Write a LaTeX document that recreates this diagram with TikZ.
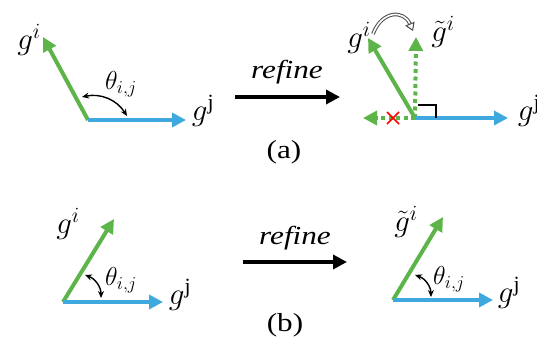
\RequirePackage{fix-cm}
\documentclass[tikz,border=0pt]{standalone}
\usepackage{amsmath}
\usepackage{graphicx}
\usepackage{fontspec}
\setmainfont{Liberation Serif}
\usetikzlibrary{arrows.meta,calc}
\definecolor{vgreen}{HTML}{5DB54A}
\definecolor{vblue}{HTML}{3EA8DF}
\definecolor{swapgrey}{HTML}{4A4A4A}
\newcommand{\widetxt}[1]{\scalebox{1.2}[1]{#1}}

\begin{document}
\begin{tikzpicture}[
  x=1pt, y=-1pt,
  garr/.style={-{Triangle[length=14pt,width=14pt]}, vgreen, line width=4pt},
  gdot/.style={-{Triangle[length=14pt,width=14pt]}, vgreen, line width=4pt, dash pattern=on 4pt off 3.5pt},
  barr/.style={-{Triangle[length=14pt,width=14pt]}, vblue, line width=4pt},
  karr/.style={-{Triangle[length=14pt,width=14pt]}, black, line width=4pt},
  angarr/.style={{Stealth[length=7pt,width=6pt]}-{Stealth[length=7pt,width=6pt]}, black, line width=1.4pt},
  vlab/.style={inner sep=0pt, font=\fontsize{31}{34}\selectfont},
  thlab/.style={inner sep=0pt, font=\fontsize{26}{30}\selectfont},
  txt/.style={inner sep=0pt, font=\fontsize{26}{30}\selectfont}
]
\useasboundingbox (0,0) rectangle (537,352);

% (a) before
\coordinate (oa) at (88,120);
\coordinate (gia) at (43,37);
\coordinate (gja) at (186,120);
\draw[garr] (oa) -- (gia);
\draw[barr] (oa) -- (gja);
\node[vlab] (lgia) at (29,40) {$g^{i}$};
\node[vlab] (lgja) at (203,111) {$g^{\mathrm{j}}$};
\coordinate (arca1) at (82,97);
\coordinate (arca2) at (127,116);
\draw[angarr] (arca1) to[bend left=35] (arca2);
\node[thlab] (tha) at (121,84) {$\theta_{i,j}$};

% refine (a)
\coordinate (ra1) at (235,97);
\coordinate (ra2) at (340,97);
\draw[karr] (ra1) -- (ra2);
\node[txt] (rfa) at (287,72) {\widetxt{\textit{refine}}};
\node[txt] (capa) at (284,152) {\widetxt{(a)}};

% (a) after
\coordinate (ob) at (415,118);
\coordinate (gib) at (368,38);
\coordinate (gtb) at (416,37);
\coordinate (gnb) at (363,118);
\coordinate (gjb) at (508,118);
\draw[gdot] (ob) -- (gnb);
\draw[gdot] (ob) -- (gtb);
\draw[garr] (ob) -- (gib);
\draw[barr] (ob) -- (gjb);
\draw[black, line width=1.4pt] (418,105) -- (436,105) -- (436,118);
\draw[red, line width=1.5pt] (387,112) -- (399,124) (387,124) -- (399,112);
\node[vlab] (lgib) at (359,38) {$g^{i}$};
\node[vlab] (lgtb) at (443,32) {$\tilde{g}^{i}$};
\node[vlab] (lgjb) at (529,111) {$g^{\mathrm{j}}$};
\coordinate (sw1) at (373,34);
\coordinate (sw2) at (413,31);
\draw[swapgrey, line width=1pt, double=white, double distance=1.6pt,
  -{Triangle[open,length=8pt,width=10pt]}] (sw1) .. controls (382,10) and (404,10) .. (sw2);

% (b) before
\coordinate (oc) at (63,302);
\coordinate (gic) at (114,219);
\coordinate (gjc) at (163,302);
\draw[garr] (oc) -- (gic);
\draw[barr] (oc) -- (gjc);
\node[vlab] (lgic) at (68,224) {$g^{i}$};
\node[vlab] (lgjc) at (180,295) {$g^{\mathrm{j}}$};
\coordinate (arcc1) at (85,275);
\coordinate (arcc2) at (101,298);
\draw[angarr] (arcc1) to[bend left=35] (arcc2);
\node[thlab] (thc) at (121,280) {$\theta_{i,j}$};

% refine (b)
\coordinate (rb1) at (243,262);
\coordinate (rb2) at (347,262);
\draw[karr] (rb1) -- (rb2);
\node[txt] (rfb) at (295,238) {\widetxt{\textit{refine}}};
\node[txt] (capb) at (285,325) {\widetxt{(b)}};

% (b) after
\coordinate (od) at (393,300);
\coordinate (gid) at (443,217);
\coordinate (gjd) at (493,300);
\draw[garr] (od) -- (gid);
\draw[barr] (od) -- (gjd);
\node[vlab] (lgtd) at (406,222) {$\tilde{g}^{i}$};
\node[vlab] (lgjd) at (509,293) {$g^{\mathrm{j}}$};
\coordinate (arcd1) at (415,275);
\coordinate (arcd2) at (431,297);
\draw[angarr] (arcd1) to[bend left=35] (arcd2);
\node[thlab] (thd) at (449,279) {$\theta_{i,j}$};
\end{tikzpicture}
\end{document}
